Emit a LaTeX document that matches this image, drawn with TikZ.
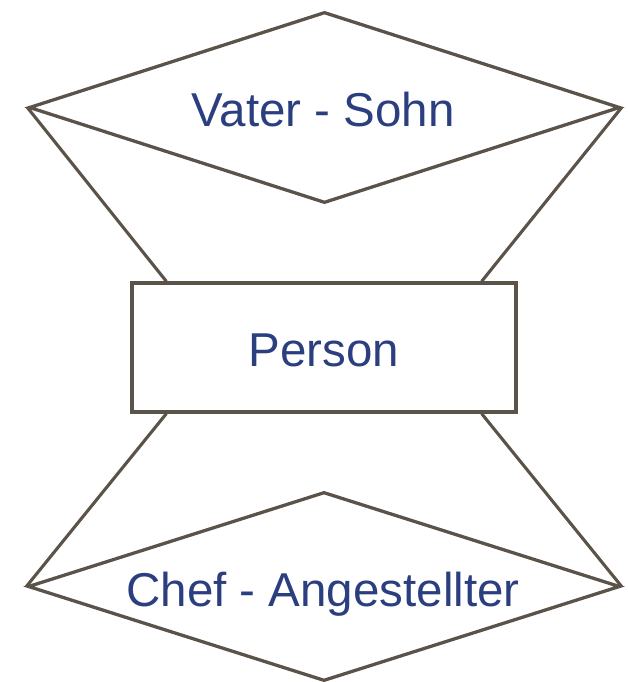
\documentclass[tikz,border=0pt]{standalone}
\usepackage{fontspec}
\setmainfont{Liberation Sans}
\usetikzlibrary{shapes.geometric,calc}
\definecolor{edgec}{HTML}{5B5349}
\definecolor{txtc}{HTML}{2B3E7F}
\begin{document}
\begin{tikzpicture}[x=1pt,y=-1pt,
 rel/.style={draw=edgec, line width=3.3pt, diamond, inner sep=0pt, minimum width=591pt, minimum height=191pt},
 ent/.style={draw=edgec, line width=3.3pt, rectangle, inner sep=0pt, minimum width=384pt, minimum height=129pt},
 lbl/.style={text=txtc, font=\fontsize{47.5}{57}\selectfont, anchor=base, inner sep=0pt},
 conn/.style={draw=edgec, line width=3.1pt}]
\useasboundingbox (0,0) rectangle (628,682);
\node[rel] (vs) at (324.5,107.5) {};
\node[rel, minimum width=592pt, minimum height=189pt] (ca) at (324,586.5) {};
\node[ent] (p) at (324,347.5) {};
\node[lbl] (tvs) at (323,126) {Vater - Sohn};
\node[lbl] (tp) at (324,366) {Person};
\node[lbl] (tca) at (323,606) {Chef - Angestellter};
\draw[conn] (vs.west) -- ($(p.north west)+(36,0)$);
\draw[conn] (vs.east) -- ($(p.north east)+(-36,0)$);
\draw[conn] (ca.west) -- ($(p.south west)+(36,0)$);
\draw[conn] (ca.east) -- ($(p.south east)+(-36,0)$);
\end{tikzpicture}
\end{document}
